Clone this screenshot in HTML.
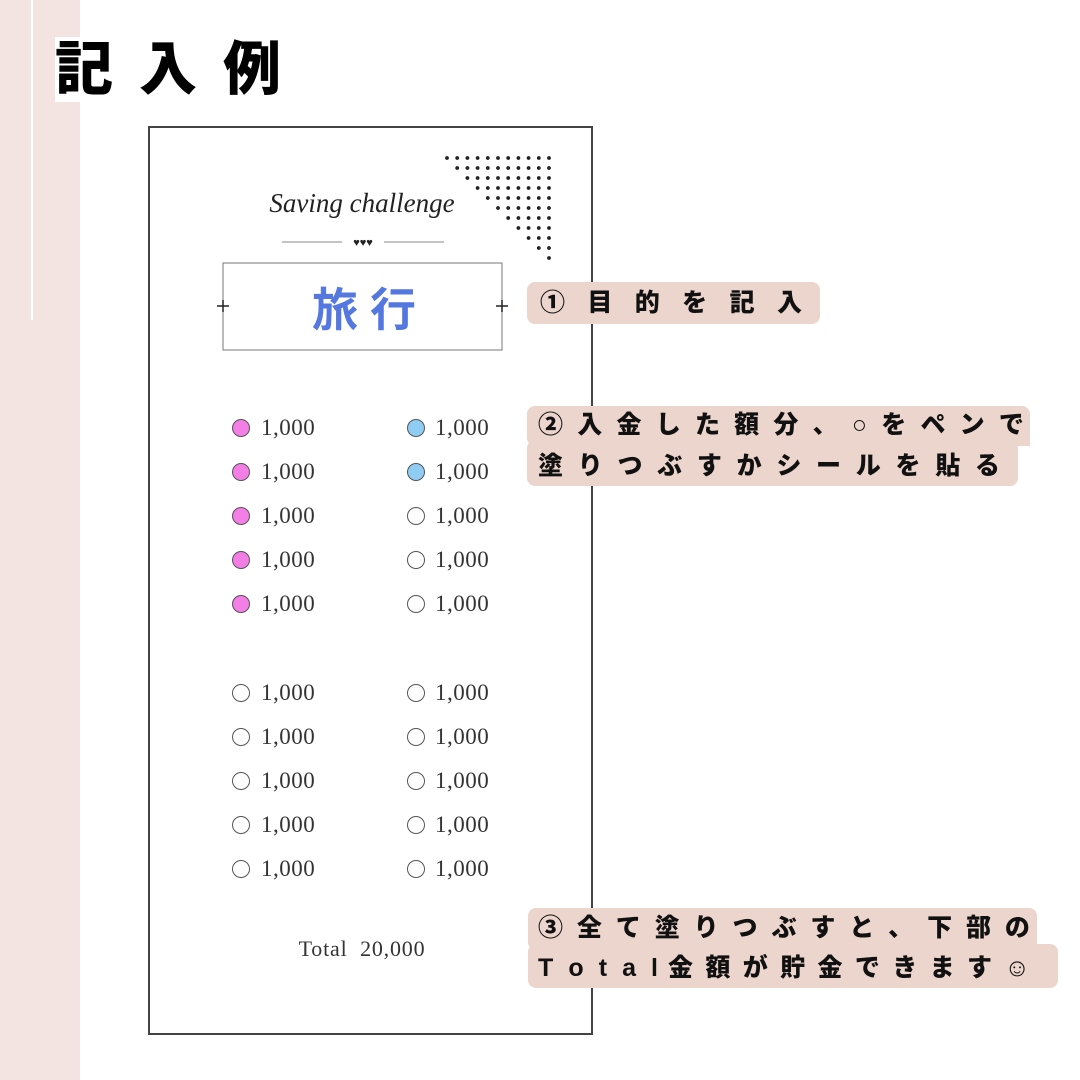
<!DOCTYPE html>
<html><head><meta charset="utf-8"><style>
*{margin:0;padding:0;box-sizing:border-box}
body{width:1080px;height:1080px;position:relative;background:#fff;overflow:hidden;font-family:"Liberation Sans","Noto Sans CJK JP",sans-serif}
.strip{position:absolute;left:0;top:0;width:80px;height:1080px;background:#f3e4e1}
.vl{position:absolute;left:31px;top:0;width:2px;height:320px;background:#fff}
.title{position:absolute;left:55px;top:30px;font-size:58px;font-weight:900;letter-spacing:26px;color:#000;line-height:80px;white-space:nowrap}
.title span{background:#fff}
.card{position:absolute;left:148px;top:126px;width:445px;height:909px;border:2px solid #444;background:#fff}
.lbl{position:absolute;background:#ecd5cd;border-radius:8px}
.ln{position:absolute;display:flex;justify-content:space-between;font-weight:900;font-size:25px;color:#111;line-height:40px}
.row{position:absolute;font-family:"Liberation Serif",serif;font-size:23px;letter-spacing:0.5px;color:#333;line-height:24px}
.c{position:absolute;width:18px;height:18px;border-radius:50%;border:1px solid #555}
</style></head><body>
<div class="strip"></div><div class="vl"></div>
<div class="title"><span>記</span>入例</div>
<div class="card"></div>
<svg style="position:absolute;left:0;top:0" width="1080" height="1080">
<text x="362" y="212" text-anchor="middle" font-family="Liberation Serif,serif" font-style="italic" font-size="27" fill="#222">Saving challenge</text>
<line x1="282" y1="242" x2="342" y2="242" stroke="#888" stroke-width="1"/>
<line x1="384" y1="242" x2="444" y2="242" stroke="#888" stroke-width="1"/>
<text x="363" y="246" text-anchor="middle" font-size="11" fill="#222">♥♥♥</text>
<rect x="223" y="263" width="279" height="87" fill="none" stroke="#777" stroke-width="1"/>
<path d="M223 300 v12 M217 306 h12 M502 300 v12 M496 306 h12" stroke="#222" stroke-width="1.5"/>
<text x="370" y="326" text-anchor="middle" font-family="Noto Sans CJK JP,sans-serif" font-weight="bold" font-size="46" letter-spacing="12" fill="#5577e0">旅行</text>
<text x="362" y="956" text-anchor="middle" font-family="Liberation Serif,serif" font-size="22" letter-spacing="0.8" fill="#333">Total&#160;&#160;20,000</text>
</svg>
<svg style="position:absolute;left:440px;top:150px" width="120" height="115" id="dots">
</svg>
<script>
var s=document.getElementById('dots'),h='';
for(var r=0;r<11;r++){for(var c=r;c<11;c++){h+='<circle cx="'+(7+c*10.2)+'" cy="'+(8+r*10)+'" r="1.9" fill="#222"/>';}}
s.innerHTML=h;
var rows=[428,472,516,560,604,693,737,781,825,869],out='';
rows.forEach(function(y,i){
 var lf=i<5?'#f27ee6':'#fff', rf=i<2?'#8fcdf5':'#fff';
 out+='<div class="c" style="left:232px;top:'+(y-9)+'px;background:'+lf+'"></div><div class="row" style="left:261px;top:'+(y-12)+'px">1,000</div>';
 out+='<div class="c" style="left:407px;top:'+(y-9)+'px;background:'+rf+'"></div><div class="row" style="left:435px;top:'+(y-12)+'px">1,000</div>';
});
document.body.insertAdjacentHTML('beforeend',out);
function line(x,y,w,txt){var d='<div class="ln" style="left:'+x+'px;top:'+y+'px;width:'+w+'px">';for(var ch of txt)d+='<span>'+ch+'</span>';return d+'</div>';}
var L='';
L+='<div class="lbl" style="left:527px;top:282px;width:293px;height:42px"></div>'+line(540,283,262,'①目的を記入');
L+='<div class="lbl" style="left:527px;top:406px;width:503px;height:40px;border-bottom-right-radius:0"></div><div class="lbl" style="left:527px;top:440px;width:491px;height:46px"></div>';
L+=line(538,405,486,'②入金した額分、○をペンで')+line(538,446,462,'塗りつぶすかシールを貼る');
L+='<div class="lbl" style="left:528px;top:908px;width:509px;height:42px;border-bottom-right-radius:0"></div><div class="lbl" style="left:528px;top:944px;width:530px;height:44px"></div>';
L+=line(538,908,492,'③全て塗りつぶすと、下部の');
L+='<div class="ln" style="left:538px;top:948px;width:120px"><span>T</span><span>o</span><span>t</span><span>a</span><span>l</span></div>'+line(668,948,362,'金額が貯金できます☺');
document.body.insertAdjacentHTML('beforeend',L);
</script>
</body></html>
